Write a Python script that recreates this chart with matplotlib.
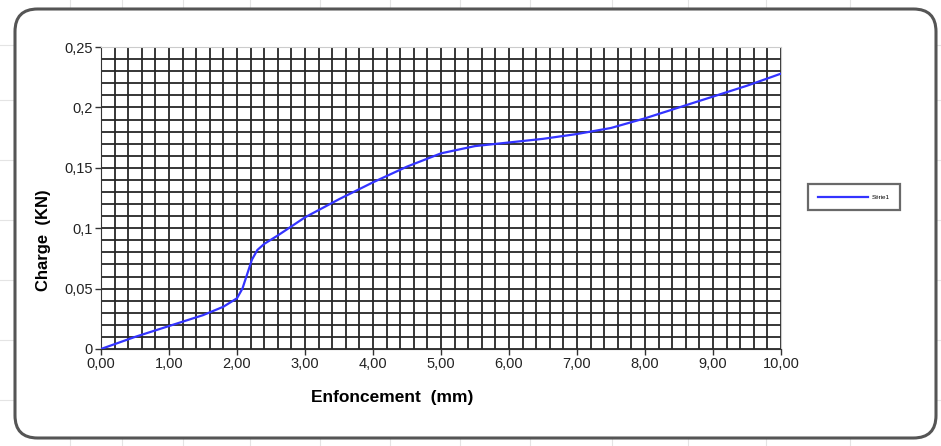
import matplotlib.pyplot as plt
import numpy as np
from matplotlib.patches import FancyBboxPatch
from matplotlib.lines import Line2D

plt.rcParams['font.family'] = ['Liberation Sans', 'DejaVu Sans']

# enfoncement (mm) / charge (KN)
enfoncement = [0.0, 0.5, 1.0, 1.5, 1.8, 2.0, 2.08, 2.15, 2.22, 2.3, 2.4, 2.6, 3.0,
               3.5, 4.0, 4.5, 5.0, 5.5, 6.0, 6.5, 7.0, 7.5, 8.0, 8.5, 9.0, 9.5, 10.0]
charge = [0.0, 0.010, 0.019, 0.028, 0.035, 0.042, 0.050, 0.062, 0.074, 0.082, 0.087,
          0.094, 0.109, 0.124, 0.138, 0.151, 0.162, 0.168, 0.171, 0.174, 0.178,
          0.183, 0.191, 0.200, 0.209, 0.218, 0.228]
xticks = [0, 1, 2, 3, 4, 5, 6, 7, 8, 9, 10]
yticks = [0, 0.05, 0.1, 0.15, 0.2, 0.25]
ylabels = ['0', '0,05', '0,1', '0,15', '0,2', '0,25']

fig = plt.figure(figsize=(9.41, 4.46), dpi=100)

# faint spreadsheet cells behind the chart
for xf in [70, 122, 183, 250, 320, 390, 460, 530, 612, 688, 766, 850]:
    fig.add_artist(Line2D([xf / 941, xf / 941], [1, 0], color='#e4e4e4', lw=0.8, zorder=0))
for yf in [45, 100, 160, 220, 280, 340, 400]:
    fig.add_artist(Line2D([0, 1], [1 - yf / 446, 1 - yf / 446], color='#e4e4e4', lw=0.8, zorder=0))

box = FancyBboxPatch((15 / 941, 8 / 446), 921 / 941, 429 / 446,
                     boxstyle='round,pad=0,rounding_size=0.024', transform=fig.transFigure,
                     facecolor='white', edgecolor='#555555', lw=2.2, zorder=1,
                     mutation_aspect=941 / 446)
fig.add_artist(box)

ax = fig.add_axes([0.1073, 0.2175, 0.7227, 0.677])
ax.set_zorder(2)
ax.set_facecolor('white')

ax.set_xticks(np.arange(0, 10.01, 0.2), minor=True)
ax.set_yticks(np.arange(0, 0.2501, 0.01), minor=True)
ax.grid(which='both', color='#262626', lw=1.3)
ax.tick_params(which='minor', length=0)
ax.set_axisbelow(True)

ax.plot(enfoncement, charge, color='#3333ff', lw=1.6, label='Série1', zorder=3)

ax.set_xlim(0, 10)
ax.set_ylim(0, 0.25)
ax.set_xticks(xticks)
ax.set_xticklabels([('%.2f' % v).replace('.', ',') for v in xticks])
ax.set_yticks(yticks)
ax.set_yticklabels(ylabels)
ax.tick_params(which='major', labelsize=10.5, length=4, width=1, color='#333333',
               pad=2, labelcolor='#222222')

for s in ['top', 'right']:
    ax.spines[s].set_color('#cccccc')
for s in ['left', 'bottom']:
    ax.spines[s].set_color('#333333')

ax.set_xlabel('Enfoncement  (mm)', fontsize=12.5, fontweight='bold', va='center')
ax.xaxis.set_label_coords(0.428, -0.162)
ax.set_ylabel('Charge  (KN)', fontsize=12, fontweight='bold', va='center')
ax.yaxis.set_label_coords(-0.085, 0.361)

leg = fig.legend(loc='center', bbox_to_anchor=(854 / 941, 1 - 197 / 446), fontsize=4.5,
                 frameon=True, fancybox=False, edgecolor='#444444', borderpad=1.7,
                 handlelength=8, handletextpad=0.5)
leg.get_frame().set_linewidth(1.6)
leg.set_zorder(3)

fig.savefig('out.png', dpi=100)
